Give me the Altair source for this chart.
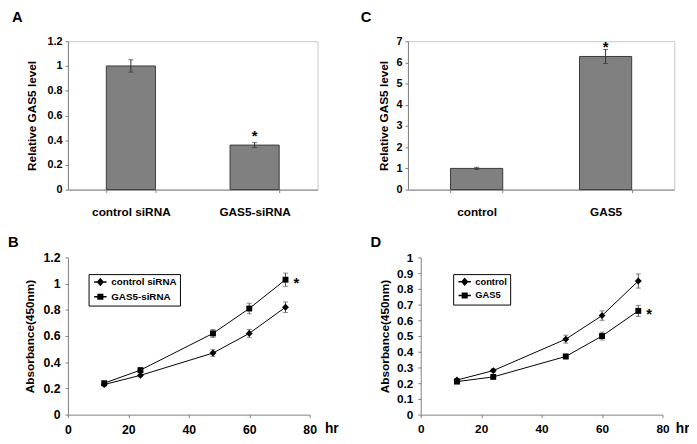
import altair as alt
import pandas as pd

# ---------------- data ----------------
a_cats = ["control siRNA", "GAS5-siRNA"]
a_vals = [1.00, 0.36]
a_errs = [0.05, 0.02]
a_star = ["", "*"]

c_cats = ["control", "GAS5"]
c_vals = [1.00, 6.28]
c_errs = [0.05, 0.33]
c_star = ["", "*"]

hours = [12, 24, 48, 60, 72]
b_names = ["control siRNA", "GAS5-siRNA"]
b_ctrl = [0.23, 0.30, 0.47, 0.62, 0.82]
b_ctrl_err = [0.01, 0.01, 0.025, 0.03, 0.04]
b_gas = [0.24, 0.34, 0.62, 0.81, 1.03]
b_gas_err = [0.01, 0.012, 0.03, 0.04, 0.05]

d_names = ["control", "GAS5"]
d_ctrl = [0.22, 0.28, 0.48, 0.63, 0.85]
d_ctrl_err = [0.01, 0.01, 0.025, 0.03, 0.045]
d_gas = [0.21, 0.24, 0.37, 0.50, 0.66]
d_gas_err = [0.01, 0.01, 0.015, 0.025, 0.035]

FONT = "Liberation Sans"
GRAY = "#808080"
DIAMOND = "M-2.3,0H2.3M0,-1.15L1,0L0,1.15L-1,0Z"
SQUARE = "M-2.3,0H2.3M-0.85,-0.85H0.85V0.85H-0.85Z"


def letter(text, dx, offset):
    return alt.TitleParams(text, anchor="start", frame="group", dx=dx, offset=offset,
                           font=FONT, fontSize=15, fontWeight="bold", color="black")


def yaxis(title, values, size, tpad, lpad=3):
    return alt.Axis(title=title, values=values, format="~g", grid=False,
                    labelOverlap=False, labelFlush=False,
                    domainColor=GRAY, tickColor=GRAY, tickSize=3,
                    labelFont=FONT, labelFontSize=size, labelFontWeight="bold",
                    labelColor="black", labelPadding=lpad,
                    titleFont=FONT, titleFontSize=12, titleFontWeight="bold",
                    titleColor="black", titlePadding=tpad)


def bar_panel(cats, vals, errs, stars, ymax, yvals, width, height, pin, pout,
              ytitle, let, let_dx, let_off, tpad, star_dy):
    df = pd.DataFrame({"cat": cats, "val": vals, "err": errs, "star": stars})
    df["lo"] = df["val"] - df["err"]
    df["hi"] = df["val"] + df["err"]
    xax = alt.Axis(title=None, labelAngle=0, grid=False, domainColor=GRAY,
                   tickColor=GRAY, tickSize=3, tickBand="extent",
                   labelFont=FONT, labelFontSize=12, labelFontWeight="bold",
                   labelColor="black", labelPadding=14)
    xs = alt.Scale(domain=cats, paddingInner=pin, paddingOuter=pout)
    x = alt.X("cat:N", sort=cats, scale=xs, axis=xax)
    ys = alt.Scale(domain=[0, ymax], nice=False)
    yax = yaxis(ytitle, yvals, 11, tpad)

    def Y(f):
        return alt.Y(f, scale=ys, axis=yax)

    base = alt.Chart(df)
    bars = base.mark_bar(color="#808080", stroke="#3a3a3a", strokeWidth=1).encode(
        x=x, y=Y("val:Q"))
    rule = base.mark_rule(color="#333333", strokeWidth=1).encode(
        x=x, y=Y("lo:Q"), y2="hi:Q")
    cap_lo = base.mark_tick(orient="horizontal", color="#333333", size=5, thickness=1).encode(
        x=x, y=Y("lo:Q"))
    cap_hi = base.mark_tick(orient="horizontal", color="#333333", size=5, thickness=1).encode(
        x=x, y=Y("hi:Q"))
    star = base.mark_text(font=FONT, fontSize=15, fontWeight="bold", color="black",
                          baseline="alphabetic", dy=star_dy).encode(
        x=x, y=Y("hi:Q"), text="star:N")
    return alt.layer(bars, rule, cap_lo, cap_hi, star).properties(
        width=width, height=height, title=letter(let, let_dx, let_off),
        view=alt.ViewBackground(stroke="#c8c8c8", strokeWidth=1))


def line_panel(names, s1, e1, s2, e2, ymax, yvals, lsize, width, height, ytitle,
               let, let_dx, let_off, tpad, lx, ly, leg_size, fld, hr_dx):
    df = pd.DataFrame({"hr": hours + hours, "val": s1 + s2, "err": e1 + e2,
                       fld: [names[0]] * len(hours) + [names[1]] * len(hours)})
    df["lo"] = df["val"] - df["err"]
    df["hi"] = df["val"] + df["err"]
    sdf = pd.DataFrame({"hr": [hours[-1]], "val": [s2[-1]], "star": ["*"]})
    legdf = pd.DataFrame({"hr": [None, None], "val": [None, None], fld: names})
    xs = alt.Scale(domain=[0, 80], nice=False)
    ys = alt.Scale(domain=[0, ymax], nice=False)
    xax = alt.Axis(title="hr", values=[0, 20, 40, 60, 80], grid=False,
                   labelOverlap=False, labelFlush=False,
                   domainColor=GRAY, tickColor=GRAY, tickSize=3,
                   labelFont=FONT, labelFontSize=lsize, labelFontWeight="bold",
                   labelColor="black", labelPadding=6,
                   titleFont=FONT, titleFontSize=14, titleFontWeight="bold",
                   titleColor="black", titleAngle=0, titleAlign="left",
                   titleBaseline="top", titleX=width + hr_dx, titleY=7)
    yax = yaxis(ytitle, yvals, lsize, tpad, 5)

    def X():
        return alt.X("hr:Q", scale=xs, axis=xax)

    def Y(f):
        return alt.Y(f, scale=ys, axis=yax)

    base = alt.Chart(df)
    line = base.mark_line(color="black", strokeWidth=1).encode(
        x=X(), y=Y("val:Q"), detail=f"{fld}:N")
    rule = base.mark_rule(color="#555555", strokeWidth=1).encode(
        x=X(), y=Y("lo:Q"), y2="hi:Q")
    cap_lo = base.mark_tick(orient="horizontal", color="#555555", size=5, thickness=1).encode(
        x=X(), y=Y("lo:Q"))
    cap_hi = base.mark_tick(orient="horizontal", color="#555555", size=5, thickness=1).encode(
        x=X(), y=Y("hi:Q"))
    pts1 = alt.Chart(df[df[fld] == names[0]]).mark_point(
        shape="diamond", filled=True, color="black", size=49, opacity=1).encode(
        x=X(), y=Y("val:Q"))
    pts2 = alt.Chart(df[df[fld] == names[1]]).mark_point(
        shape="square", filled=True, color="black", size=36, opacity=1).encode(
        x=X(), y=Y("val:Q"))
    leg = alt.Chart(legdf).mark_point(
        filled=False, fill="black", stroke="black", strokeWidth=1, opacity=1).encode(
        x=X(), y=Y("val:Q"),
        shape=alt.Shape(f"{fld}:N", sort=names,
                        scale=alt.Scale(domain=names, range=[DIAMOND, SQUARE]),
                        legend=alt.Legend(title=None, orient="none", legendX=lx, legendY=ly,
                                          strokeColor="black", fillColor="white",
                                          padding=3, rowPadding=2, symbolOffset=4,
                                          labelOffset=6, symbolSize=30,
                                          labelFont=FONT, labelFontSize=leg_size,
                                          labelFontWeight="bold", labelColor="black")))
    star = alt.Chart(sdf).mark_text(font=FONT, fontSize=15, fontWeight="bold", color="black",
                                    baseline="alphabetic", dx=11, dy=8).encode(
        x=X(), y=Y("val:Q"), text="star:N")
    return alt.layer(line, rule, cap_lo, cap_hi, pts1, pts2, leg, star).properties(
        width=width, height=height, title=letter(let, let_dx, let_off))


A = bar_panel(a_cats, a_vals, a_errs, a_star, 1.2, [0, 0.2, 0.4, 0.6, 0.8, 1, 1.2],
              254, 151, 0.603, 0.31, "Relative GAS5 level", "A", -57, 11, 9, -2)
C = bar_panel(c_cats, c_vals, c_errs, c_star, 7, [0, 1, 2, 3, 4, 5, 6, 7],
              271, 151, 0.595, 0.33, "Relative GAS5 level", "C", -48, 11, 6, 3)
B = line_panel(b_names, b_ctrl, b_ctrl_err, b_gas, b_gas_err, 1.2,
               [0, 0.2, 0.4, 0.6, 0.8, 1, 1.2], 12.5, 246, 160, "Absorbance(450nm)",
               "B", -61, 2, 7, 21, 17, 10, "series_b", 15)
D = line_panel(d_names, d_ctrl, d_ctrl_err, d_gas, d_gas_err, 1,
               [0, 0.1, 0.2, 0.3, 0.4, 0.5, 0.6, 0.7, 0.8, 0.9, 1], 12, 246, 160,
               "Absorbance(450nm)", "D", -51, 2, 5, 33, 17, 9.5, "series_d", 13)

top = alt.hconcat(A, C, spacing=42)
bottom = alt.hconcat(B, D, spacing=33).resolve_scale(shape="independent").resolve_legend(
    shape="independent")
chart = alt.vconcat(top, bottom, spacing=17).resolve_scale(shape="independent").resolve_legend(
    shape="independent").properties(
    padding={"left": 0, "top": -3, "right": 0, "bottom": 0}
).configure_view(stroke=None).configure_legend(strokeColor="black", strokeWidth=1)

chart.save("out.html", embed_options={"renderer": "svg", "actions": False})
